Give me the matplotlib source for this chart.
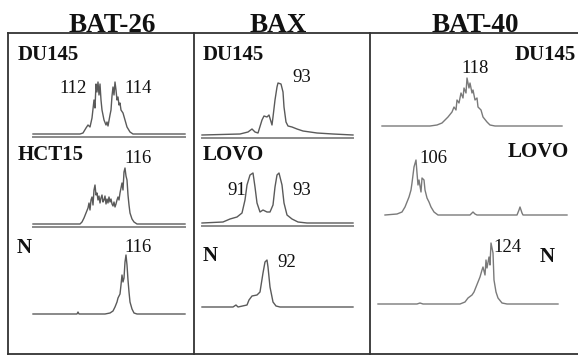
import matplotlib

matplotlib.use("Agg")
import matplotlib.pyplot as plt

plt.rcParams["font.family"] = ["Liberation Serif", "DejaVu Serif"]

W, H = 578, 357

# markers / columns
markers = ["BAT-26", "BAX", "BAT-40"]

# electropherogram traces: scan position (relative) and signal height
bat26_du145_scan = [0, 47, 50, 53, 55, 57, 59, 61, 62, 63, 64, 65, 66, 67, 68, 69, 71, 73, 74, 75,
                    77, 78, 79, 80, 81, 82, 83, 84, 85, 86, 87, 88, 90, 92, 94, 97, 100, 152]
bat26_du145_sig = [0, 0, 1, 6, 9, 7, 16, 34, 26, 50, 42, 52, 39, 50, 34, 24, 14, 9, 12, 8,
                   19, 24, 38, 47, 39, 52, 44, 34, 37, 29, 31, 24, 21, 14, 7, 2, 0, 0]

bat26_hct15_scan = [0, 47, 49, 51, 53, 55, 56, 57, 58, 59, 60, 61, 62, 63, 64, 65, 66, 67, 68, 69,
                    70, 71, 72, 73, 74, 75, 76, 77, 78, 79, 80, 81, 82, 83, 84, 85, 86, 87, 88, 89,
                    90, 91, 92, 93, 94, 95, 96, 97, 99, 101, 104, 152]
bat26_hct15_sig = [0, 0, 2, 6, 11, 16, 21, 14, 24, 27, 19, 34, 39, 29, 31, 24, 28, 21, 26, 29,
                   22, 24, 28, 20, 25, 21, 27, 22, 25, 20, 18, 22, 17, 20, 24, 27, 24, 31, 36, 41,
                   34, 52, 56, 48, 44, 29, 19, 11, 5, 2, 0, 0]

bat26_n_scan = [0, 44, 45, 46, 72, 77, 80, 82, 84, 85, 86, 87, 88, 89, 90, 91, 92, 93, 94, 95,
                96, 97, 99, 101, 104, 152]
bat26_n_sig = [0, 0, 2, 0, 0, 1, 3, 7, 12, 16, 18, 20, 29, 39, 32, 36, 52, 59, 49, 34,
               22, 12, 5, 1, 0, 0]

bax_du145_scan = [0, 38, 46, 50, 53, 56, 60, 62, 65, 67, 70, 71, 73, 75, 76, 79, 81, 82, 84, 86,
                  90, 95, 101, 115, 131, 151]
bax_du145_sig = [0, 1, 3, 6, 3, 2, 15, 19, 18, 20, 10, 18, 35, 48, 52, 51, 43, 28, 13, 9,
                 8, 6, 4, 2, 1, 0]

bax_lovo_scan = [0, 21, 28, 35, 40, 43, 45, 48, 51, 53, 55, 58, 61, 65, 68, 71, 73, 75, 77, 80,
                 82, 85, 90, 96, 105, 151]
bax_lovo_sig = [0, 1, 4, 6, 10, 23, 38, 48, 50, 36, 20, 11, 13, 11, 11, 18, 36, 48, 50, 38,
                20, 8, 4, 1, 0, 0]

bax_n_scan = [0, 31, 34, 36, 45, 47, 50, 55, 58, 61, 63, 65, 66, 68, 71, 74, 78, 151]
bax_n_sig = [0, 0, 2, 0, 2, 7, 11, 12, 15, 34, 45, 47, 40, 20, 5, 1, 0, 0]

bat40_du145_scan = [0, 48, 55, 60, 63, 66, 70, 72, 74, 75, 77, 79, 81, 82, 84, 85, 87, 88, 90, 91,
                    93, 95, 96, 99, 101, 105, 108, 113, 180]
bat40_du145_sig = [0, 0, 1, 3, 6, 9, 14, 19, 16, 26, 23, 33, 28, 38, 33, 48, 38, 43, 33, 36,
                   26, 28, 19, 16, 9, 4, 1, 0, 0]

bat40_lovo_scan = [0, 12, 17, 20, 22, 24, 26, 27, 28, 29, 31, 32, 33, 34, 36, 37, 39, 40, 42, 44,
                   46, 49, 53, 85, 87, 88, 90, 92, 132, 134, 135, 137, 138, 182]
bat40_lovo_sig = [0, 1, 3, 8, 13, 18, 25, 32, 40, 48, 55, 42, 30, 35, 23, 37, 35, 25, 17, 13,
                  8, 3, 0, 0, 2, 3, 1, 0, 0, 5, 8, 2, 0, 0]

bat40_n_scan = [0, 39, 42, 45, 82, 87, 90, 94, 96, 98, 100, 102, 104, 105, 107, 108, 109, 111, 112, 113,
                115, 116, 118, 120, 124, 129, 180]
bat40_n_sig = [0, 0, 1, 0, 0, 2, 6, 9, 12, 17, 22, 27, 34, 37, 29, 44, 36, 47, 39, 61,
               51, 24, 12, 6, 1, 0, 0]

# (scan, signal, left px, baseline px, doubled baseline, colour)
traces = [
    (bat26_du145_scan, bat26_du145_sig, 33, 134, True, "#5a5a5a"),
    (bat26_hct15_scan, bat26_hct15_sig, 33, 224, True, "#5a5a5a"),
    (bat26_n_scan, bat26_n_sig, 33, 314, False, "#5a5a5a"),
    (bax_du145_scan, bax_du145_sig, 202, 135, True, "#5a5a5a"),
    (bax_lovo_scan, bax_lovo_sig, 202, 223, True, "#5a5a5a"),
    (bax_n_scan, bax_n_sig, 202, 307, False, "#5a5a5a"),
    (bat40_du145_scan, bat40_du145_sig, 382, 126, False, "#7a7a7a"),
    (bat40_lovo_scan, bat40_lovo_sig, 385, 215, False, "#7a7a7a"),
    (bat40_n_scan, bat40_n_sig, 378, 304, False, "#7a7a7a"),
]

# sample names: (text, left px, baseline px)
sample_labels = [
    ("DU145", 18, 60), ("HCT15", 18, 160), ("N", 17, 253),
    ("DU145", 203, 60), ("LOVO", 203, 160), ("N", 203, 261),
    ("DU145", 515, 60), ("LOVO", 508, 157), ("N", 540, 262),
]

# allele sizes
peak_labels = [
    ("112", 59, 93), ("114", 124, 93), ("116", 124, 163), ("116", 124, 252),
    ("93", 292, 82), ("91", 227, 195), ("93", 292, 195), ("92", 277, 267),
    ("118", 461, 73), ("106", 419, 163), ("124", 493, 252),
]

title_x = [112, 278, 475]

fig = plt.figure(figsize=(W / 100, H / 100), dpi=100)
fig.patch.set_facecolor("white")

# overlay in pixel coordinates for frame and text
ov = fig.add_axes([0, 0, 1, 1])
ov.set_xlim(0, W)
ov.set_ylim(H, 0)
ov.axis("off")

frame_kw = dict(color="#333333", lw=1.3)
ov.plot([8, W], [33, 33], **frame_kw)
ov.plot([8, W], [354, 354], **frame_kw)
for x in [8, 194, 370]:
    ov.plot([x, x], [33, 354], **frame_kw)

for name, x in zip(markers, title_x):
    ov.text(x, 32, name, ha="center", va="baseline", fontsize=19.5, fontweight="bold", color="#111111")
for txt, x, y in sample_labels:
    ov.text(x, y, txt, ha="left", va="baseline", fontsize=15, fontweight="bold", color="#111111")
for txt, x, y in peak_labels:
    ov.text(x, y, txt, ha="left", va="baseline", fontsize=13.5, color="#111111")

for scan, sig, x0, base, double, col in traces:
    width = scan[-1]
    ax = fig.add_axes([x0 / W, 1 - base / H, width / W, 70 / H])
    ax.set_xlim(0, width)
    ax.set_ylim(0, 70)
    ax.axis("off")
    ax.patch.set_alpha(0)
    ax.plot(scan, sig, color=col, lw=1.0, clip_on=False)
    if double:
        ax.axhline(-3, color="#8a8a8a", lw=1.4, clip_on=False)

fig.savefig("out.png", dpi=100)
